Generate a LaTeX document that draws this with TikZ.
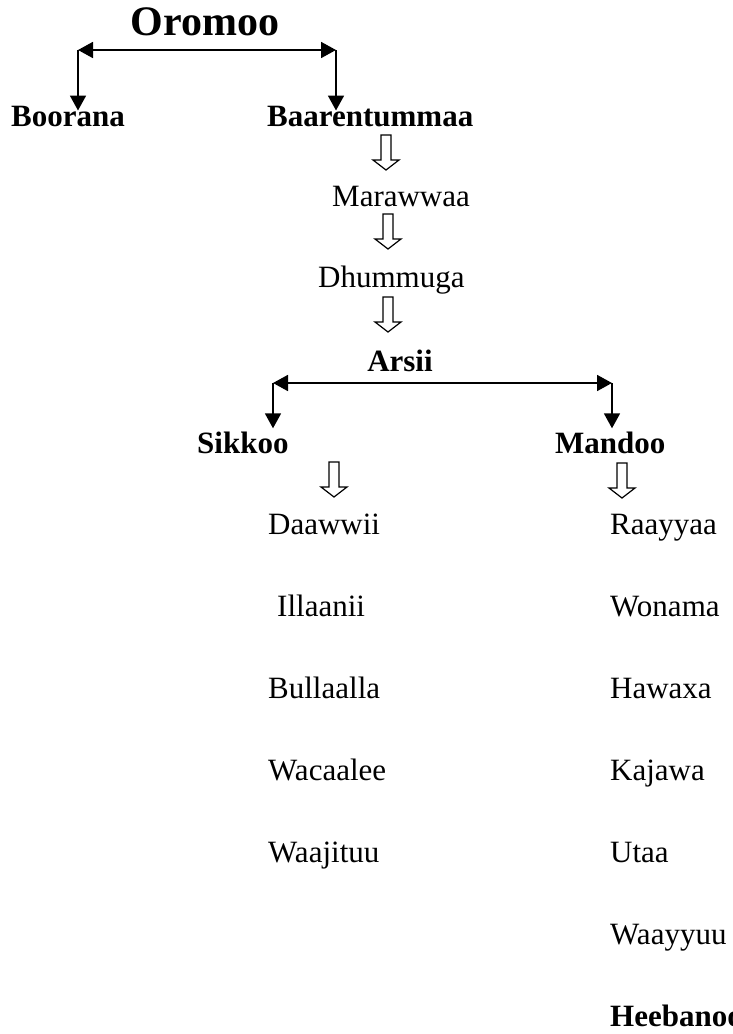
\documentclass[tikz,border=0pt]{standalone}
\usepackage{fontspec}
\setmainfont{Liberation Serif}
\usepackage{tikz}
\usetikzlibrary{positioning,calc,arrows.meta}

\begin{document}
\begin{tikzpicture}[
	x=1pt, y=-1pt,
	tribe/.style = {inner sep=0pt, anchor=base west,
		font=\fontsize{31}{31}\selectfont},
	tribehead/.style = {tribe, font=\fontsize{31}{31}\selectfont\bfseries},
	link/.style = {line width=1.8pt, black,
		-{Triangle[length=15pt,width=16pt]}},
	split/.style = {link, {Triangle[length=15pt,width=16pt]}-{Triangle[length=15pt,width=16pt]}},
	hollowdown/.pic = {\draw[line width=1.2pt, line join=miter]
		(-5,0) -- (-5,25) -- (-13,25) -- (0,35) -- (13,25) -- (5,25) -- (5,0) -- cycle;},
	]
	\useasboundingbox (0,0) rectangle (732,1034);
	
	\node[tribehead, anchor=base, font=\fontsize{42}{42}\selectfont\bfseries] (oromoo) at (205,35) {Oromoo};
	\node[tribehead] (boorana) at (11,126) {Boorana};
	\node[tribehead] (baaren) at (267,126) {Baarentummaa};
	\node[tribe] (maraw) at (332,206) {Marawwaa};
	\node[tribe] (dhumm) at (318,287) {Dhummuga};
	\node[tribehead, anchor=base] (arsii) at (400,371) {Arsii};
	\node[tribehead] (sikkoo) at (197,453) {Sikkoo};
	\node[tribehead] (mandoo) at (555,453) {Mandoo};
	
	% the two splits
	\coordinate (ol) at (78,50);
	\coordinate (or) at (336,50);
	\draw[split] (ol) -- (or);
	\draw[link] (ol) -- ([yshift=-5pt]ol |- boorana.north);
	\draw[link] (or) -- ([yshift=-5pt]or |- baaren.north);
	
	\coordinate (al) at (273,383);
	\coordinate (ar) at (612,383);
	\draw[split] (al) -- (ar);
	\draw[link, shorten >=3pt] (al) -- (al |- sikkoo.north);
	\draw[link, shorten >=3pt] (ar) -- (ar |- mandoo.north);
	
	% hollow arrows
	\pic at (386,135) {hollowdown};
	\pic at (388,214) {hollowdown};
	\pic at (388,297) {hollowdown};
	\pic at (334,462) {hollowdown};
	\pic at (622,463) {hollowdown};
	
	\foreach \t/\x [count=\j from 0] in {Daawwii/268,Illaanii/277,Bullaalla/268,Wacaalee/268,Waajituu/268}
	\node[tribe] (s-\j) at (\x,534+82*\j) {\t};
	\foreach \t [count=\j from 0] in {Raayyaa,Wonama,Hawaxa,Kajawa,Utaa,Waayyuu}
	\node[tribe] (m-\j) at (610,534+82*\j) {\t};
	\node[tribehead] (m-6) at (610,1026) {Heebanoo};
\end{tikzpicture}
\end{document}
